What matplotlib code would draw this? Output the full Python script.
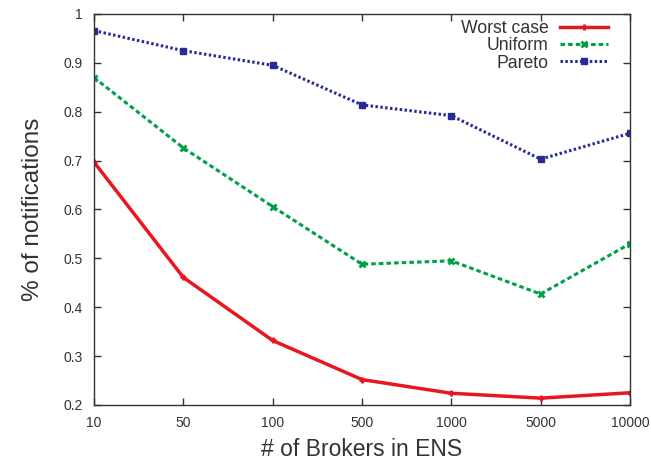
import matplotlib
matplotlib.use("Agg")
import matplotlib.pyplot as plt

plt.rcParams['font.family'] = ['Liberation Sans', 'DejaVu Sans']

brokers = ["10", "50", "100", "500", "1000", "5000", "10000"]
worst_case = [0.697, 0.461, 0.332, 0.252, 0.224, 0.214, 0.225]
uniform = [0.870, 0.726, 0.606, 0.488, 0.495, 0.427, 0.530]
pareto = [0.966, 0.925, 0.895, 0.814, 0.792, 0.703, 0.756]

xs = list(range(len(brokers)))
text_col = "#333333"

fig = plt.figure(figsize=(6.51, 4.62), dpi=100)
ax = fig.add_axes([0.1444, 0.1234, 0.8233, 0.8463])

ax.plot(xs, worst_case, color="#e8161f", lw=2.5, marker="+", ms=5, mew=2,
        label="Worst case")
ax.plot(xs, uniform, color="#00a04a", lw=2.2, ls=(0, (1.5, 1)), marker="x",
        ms=5, mew=2, label="Uniform")
ax.plot(xs, pareto, color="#262b96", lw=2.2, ls=(0, (0.8, 0.8)), marker="s",
        ms=4.5, label="Pareto")

ax.set_xlim(0, len(brokers) - 1)
ax.set_ylim(0.2, 1.0)
ax.set_xticks(xs)
ax.set_xticklabels(brokers)
ax.set_yticks([0.2, 0.3, 0.4, 0.5, 0.6, 0.7, 0.8, 0.9, 1.0])
ax.set_yticklabels(["0.2", "0.3", "0.4", "0.5", "0.6", "0.7", "0.8", "0.9", "1"])
ax.tick_params(direction="in", top=True, right=True, length=5, width=1,
               labelsize=10, colors=text_col, pad=8)
for s in ax.spines.values():
    s.set_color("#333333")
    s.set_linewidth(1)

ax.set_xlabel("# of Brokers in ENS", fontsize=16.5, color=text_col, labelpad=6)
ax.set_ylabel("% of notifications", fontsize=17.5, color=text_col, labelpad=14)

# legend: text on the left, sample on the right (gnuplot style)
leg = ax.legend(loc="upper right", bbox_to_anchor=(0.972, 1.003),
                frameon=False, markerfirst=False, fontsize=12.7,
                handlelength=2.7, labelspacing=0.02, borderaxespad=0,
                handletextpad=0.65)
for t in leg.get_texts():
    t.set_color(text_col)

fig.savefig("out.png", dpi=100)
